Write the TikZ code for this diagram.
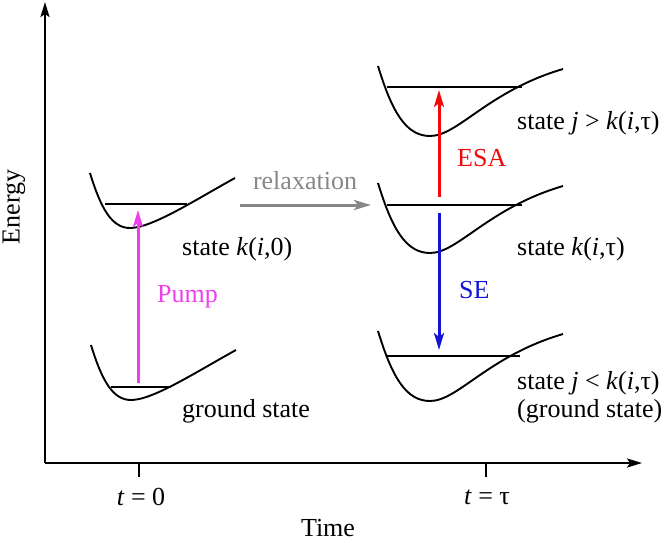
\documentclass[tikz,border=0pt]{standalone}
\usepackage{fontspec}
\setmainfont{Liberation Serif}
\usetikzlibrary{arrows.meta}
\definecolor{pumpc}{RGB}{236,64,236}
\definecolor{esac}{RGB}{242,10,10}
\definecolor{sec}{RGB}{20,20,215}
\definecolor{relc}{RGB}{135,135,135}
\tikzset{
  axis/.style={line width=2.2pt,-{Stealth[length=15pt,width=9pt,inset=3pt]}},
  tickln/.style={line width=1.6pt},
  curve/.style={line width=1.9pt},
  level/.style={line width=1.9pt},
  trans/.style={line width=3pt,-{Stealth[length=17pt,width=10pt,inset=4pt]}},
  lab/.style={font=\rmfamily\fontsize{26}{29}\selectfont, inner sep=0pt},
  smallwell/.pic={\draw[curve] (0,0) .. controls (11,36) and (22,55) .. (40,55) .. controls (62,55) and (105,27) .. (145,5);},
  bigwell/.pic={\draw[curve] (0,0) .. controls (14,46) and (28,70) .. (52,70) .. controls (80,70) and (110,25) .. (185,3);}
}
\begin{document}
\begin{tikzpicture}[x=1pt,y=-1pt]
\useasboundingbox (0,0) rectangle (666,542);
% axes
\coordinate (O) at (45,463);
\coordinate (Ytop) at (45,2);
\coordinate (Xend) at (642,463);
\draw[axis] (O) -- (Ytop);
\draw[axis] (O) -- (Xend);
\coordinate (T0a) at (139,463); \coordinate (T0b) at (139,477);
\coordinate (T1a) at (486,463); \coordinate (T1b) at (486,477);
\draw[tickln] (T0a) -- (T0b);
\draw[tickln] (T1a) -- (T1b);
\node[lab] (t0) at (141,497) {\textit{t} = 0};
\node[lab] (t1) at (487,497) {\textit{t} = τ};
\node[lab] (time) at (328,528) {Time};
\node[lab,rotate=90] (energy) at (14,207) {Energy};
% wells
\pic at (90,173) {smallwell};
\pic at (91,345) {smallwell};
\pic at (378,66) {bigwell};
\pic at (378,183) {bigwell};
\pic at (378,331) {bigwell};
% levels
\draw[level] (105,204) -- (187,204);
\draw[level] (111,387) -- (171,387);
\draw[level] (387,87) -- (522,87);
\draw[level] (387,205) -- (522,205);
\draw[level] (387,356) -- (520,356);
% transitions
\coordinate (pumpS) at (138,383);
\coordinate (pumpE) at (138,210);
\draw[trans,pumpc] (pumpS) -- (pumpE);
\coordinate (esaS) at (439,197);
\coordinate (esaE) at (439,90);
\draw[trans,esac] (esaS) -- (esaE);
\coordinate (seS) at (439,213);
\coordinate (seE) at (439,350);
\draw[trans,sec] (seS) -- (seE);
\coordinate (relS) at (240,205);
\coordinate (relE) at (371,205);
\draw[trans,relc] (relS) -- (relE);
% labels
\node[lab,anchor=west] (sk0) at (182,249) {state \textit{k}(\textit{i},0)};
\node[lab,anchor=west] (gs) at (182,411) {ground state};
\node[lab,anchor=west,text=pumpc] (pump) at (157,297) {Pump};
\node[lab,text=relc] (relax) at (305,181) {relaxation};
\node[lab,anchor=west] (sj) at (517,123) {state \textit{j} > \textit{k}(\textit{i},τ)};
\node[lab,anchor=west,text=esac] (esa) at (457,158) {ESA};
\node[lab,anchor=west] (sk) at (517,249) {state \textit{k}(\textit{i},τ)};
\node[lab,anchor=west,text=sec] (se) at (459,290) {SE};
\node[lab,anchor=west] (sjl) at (517,383) {state \textit{j} < \textit{k}(\textit{i},τ)};
\node[lab,anchor=west] (gs2) at (517,411) {(ground state)};
\end{tikzpicture}
\end{document}
